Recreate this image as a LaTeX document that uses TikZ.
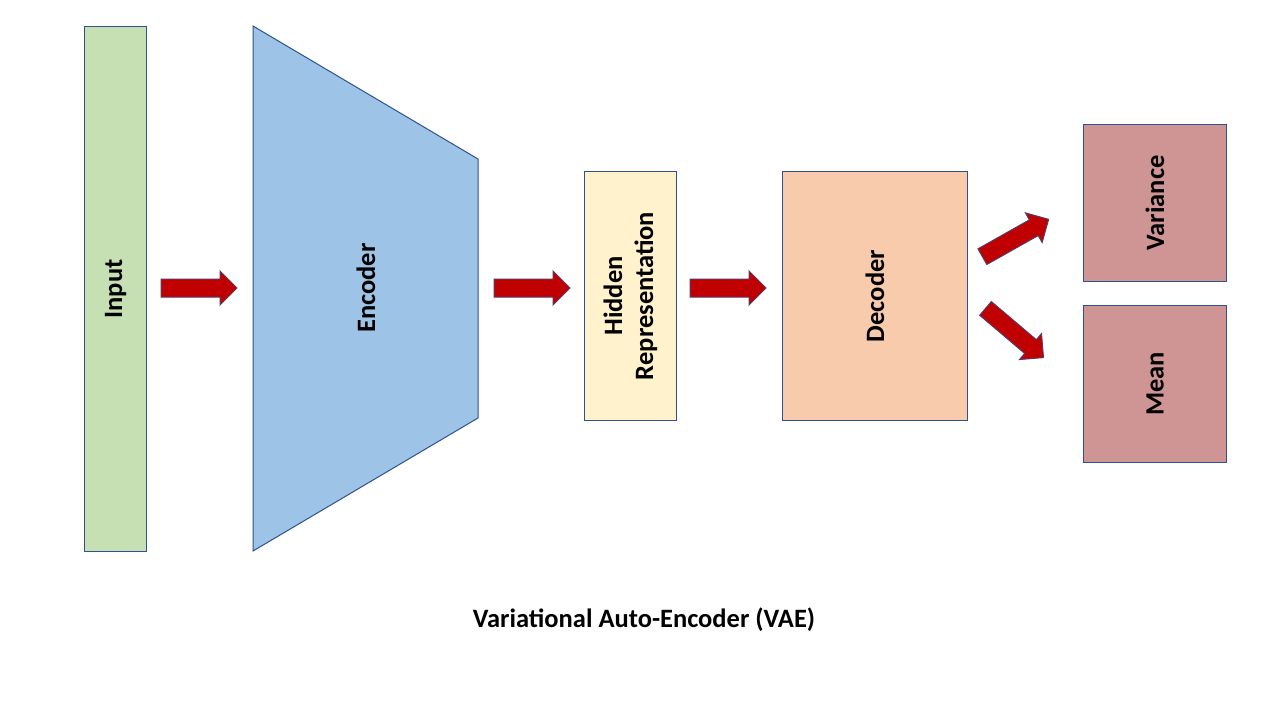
\documentclass[tikz,border=0pt]{standalone}
\usepackage{fontspec}
\setmainfont{Carlito}
\definecolor{inputc}{HTML}{C6E0B4}
\definecolor{encc}{HTML}{9DC3E6}
\definecolor{hidc}{HTML}{FFF2CC}
\definecolor{decc}{HTML}{F8CBAD}
\definecolor{outc}{HTML}{CF9494}
\definecolor{linec}{HTML}{2F528F}
\definecolor{arrc}{HTML}{C00000}
\newcommand\blockarr[2]{%
  \begin{scope}[shift={(#1)}, rotate=#2]
    \draw[arrsty] (-38,-9) -- (21,-9) -- (21,-17) -- (38,0) -- (21,17) -- (21,9) -- (-38,9) -- cycle;
  \end{scope}}
\begin{document}
\begin{tikzpicture}[x=1pt,y=-1pt,
  box/.style={draw=linec, line width=1pt, anchor=north west, inner sep=0pt},
  lbl/.style={font=\bfseries\fontsize{26.5}{31}\selectfont, rotate=90, align=center},
  arrsty/.style={fill=arrc, draw=linec!70!arrc, line width=1pt, line join=miter}]
\useasboundingbox[fill=white] (0,0) rectangle (1280,720);
% input
\node[box, fill=inputc, minimum width=62pt, minimum height=525pt] (input) at (84,26) {};
\node[lbl] (inputl) at (input.center) {Input};
% encoder
\draw[fill=encc, draw=linec, line width=1pt] (253,26) -- (478,159) -- (478,418) -- (253,551) -- cycle;
\node[lbl] (encl) at (366,288) {Encoder};
% hidden
\node[box, fill=hidc, minimum width=92pt, minimum height=249pt] (hidden) at (584,171) {};
\node[lbl] (hiddenl) at (hidden.center) {Hidden\\Representation};
% decoder
\node[box, fill=decc, minimum width=185pt, minimum height=249pt] (decoder) at (782,171) {};
\node[lbl] (decl) at (decoder.center) {Decoder};
% outputs
\node[box, fill=outc, minimum width=143pt, minimum height=157pt] (var) at (1083,124) {};
\node[lbl] (varl) at (var.center) {Variance};
\node[box, fill=outc, minimum width=143pt, minimum height=157pt] (mean) at (1083,305) {};
\node[lbl] (meanl) at (mean.center) {Mean};
% arrows
\coordinate (a1) at (199,288);
\coordinate (a2) at (532,288);
\coordinate (a3) at (728,288);
\coordinate (a4) at (1015.5,238);
\coordinate (a5) at (1014.5,333);
\blockarr{a1}{0}
\blockarr{a2}{0}
\blockarr{a3}{0}
\blockarr{a4}{29.4}
\blockarr{a5}{-40.3}
% title
\node[font=\bfseries\fontsize{26.5}{31}\selectfont] (title) at (644,620) {Variational Auto-Encoder (VAE)};
\end{tikzpicture}
\end{document}
